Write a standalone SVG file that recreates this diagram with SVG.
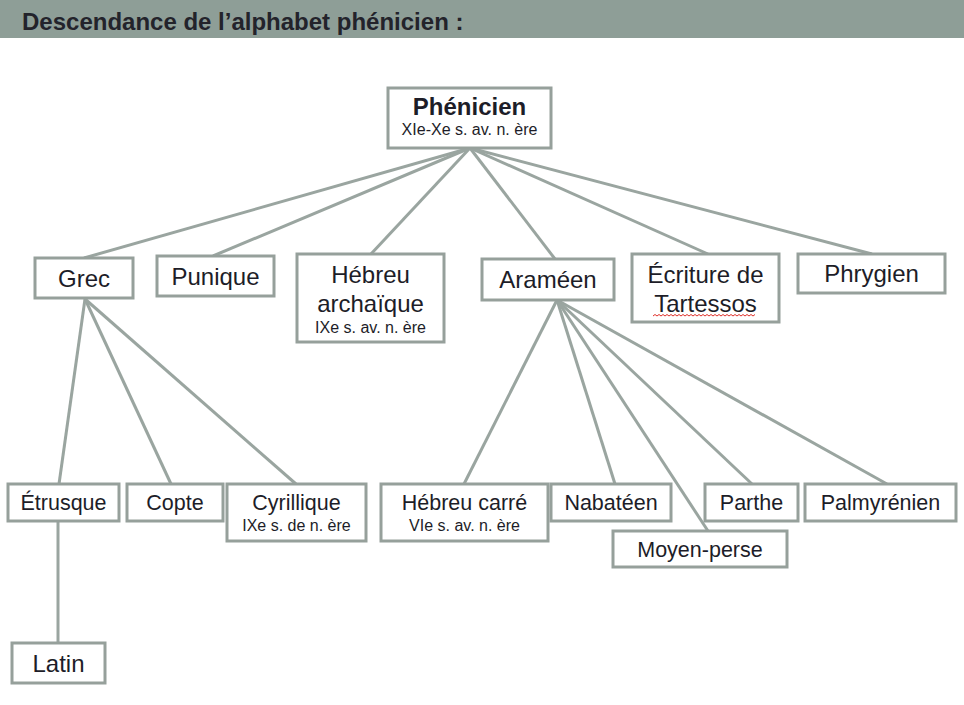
<svg xmlns="http://www.w3.org/2000/svg" width="964" height="705" viewBox="0 0 964 705">
<style>
.box{fill:#ffffff;stroke:#96a09b;stroke-width:3}
.ln{stroke:#9aa5a0;stroke-width:3;fill:none}
.t{font-family:"Liberation Sans",Arial,sans-serif;fill:#1d1d28;text-anchor:middle}
.t1{font-size:24px}
.t2{font-size:21.5px}
.s{font-size:16px}
.b{font-weight:bold}
</style>
<rect x="0" y="0" width="964" height="38" fill="#8e9e97"/>
<text x="22" y="30" font-family="Liberation Sans,Arial,sans-serif" font-size="24" font-weight="bold" fill="#23232b">Descendance de l’alphabet phénicien :</text>
<g id="connectors">
<line class="ln" x1="470" y1="148" x2="84" y2="258"/>
<line class="ln" x1="470" y1="148" x2="213" y2="256"/>
<line class="ln" x1="470" y1="148" x2="371" y2="254"/>
<line class="ln" x1="470" y1="148" x2="555" y2="259"/>
<line class="ln" x1="470" y1="148" x2="708" y2="254"/>
<line class="ln" x1="470" y1="148" x2="872" y2="254"/>
<line class="ln" x1="85" y1="299" x2="59" y2="484"/>
<line class="ln" x1="85" y1="299" x2="171" y2="484"/>
<line class="ln" x1="85" y1="299" x2="296" y2="484"/>
<line class="ln" x1="58" y1="521" x2="58" y2="643"/>
<line class="ln" x1="557" y1="300" x2="464" y2="484"/>
<line class="ln" x1="557" y1="300" x2="615" y2="484"/>
<line class="ln" x1="557" y1="300" x2="708" y2="531"/>
<line class="ln" x1="557" y1="300" x2="752" y2="484"/>
<line class="ln" x1="557" y1="300" x2="887" y2="484"/>
</g>
<g id="phenicien"><rect class="box" x="388" y="88" width="163" height="60"/><text class="t t1 b" x="469.5" y="115">Phénicien</text><text class="t s" x="469.5" y="135">XIe-Xe s. av. n. ère</text></g>
<g id="grec"><rect class="box" x="35" y="258" width="98" height="40"/><text class="t t1" x="84" y="287">Grec</text></g>
<g id="punique"><rect class="box" x="157" y="256" width="117" height="40"/><text class="t t1" x="215.5" y="285">Punique</text></g>
<g id="hebreu-archaique"><rect class="box" x="297" y="254" width="147" height="88"/><text class="t t1" x="370.5" y="283">Hébreu</text><text class="t t1" x="370.5" y="312">archaïque</text><text class="t s" x="370.5" y="333">IXe s. av. n. ère</text></g>
<g id="arameen"><rect class="box" x="482" y="259" width="132" height="41"/><text class="t t1" x="548" y="288">Araméen</text></g>
<g id="tartessos"><rect class="box" x="632" y="254" width="147" height="68"/><text class="t t1" x="705.5" y="283">Écriture de</text><text class="t t1" x="705.5" y="312">Tartessos</text><path d="M653 316 l2 -1.5 l2 1.5 l2 -1.5 l2 1.5 l2 -1.5 l2 1.5 l2 -1.5 l2 1.5 l2 -1.5 l2 1.5 l2 -1.5 l2 1.5 l2 -1.5 l2 1.5 l2 -1.5 l2 1.5 l2 -1.5 l2 1.5 l2 -1.5 l2 1.5 l2 -1.5 l2 1.5 l2 -1.5 l2 1.5 l2 -1.5 l2 1.5 l2 -1.5 l2 1.5 l2 -1.5 l2 1.5 l2 -1.5 l2 1.5 l2 -1.5 l2 1.5 l2 -1.5 l2 1.5 l2 -1.5 l2 1.5 l2 -1.5 l2 1.5 l2 -1.5 l2 1.5 l2 -1.5 l2 1.5 l2 -1.5 l2 1.5 l2 -1.5 l2 1.5 l2 -1.5 l2 1.5 l2 -1.5" fill="none" stroke="#e0302a" stroke-width="1"/></g>
<g id="phrygien"><rect class="box" x="798" y="254" width="147" height="39"/><text class="t t1" x="871.5" y="282">Phrygien</text></g>
<g id="etrusque"><rect class="box" x="8" y="484" width="111" height="37"/><text class="t t2" x="63.5" y="510">Étrusque</text></g>
<g id="copte"><rect class="box" x="127" y="484" width="96" height="37"/><text class="t t2" x="175" y="510">Copte</text></g>
<g id="cyrillique"><rect class="box" x="227" y="484" width="139" height="57"/><text class="t t2" x="296.5" y="510">Cyrillique</text><text class="t s" x="296.5" y="531">IXe s. de n. ère</text></g>
<g id="hebreu-carre"><rect class="box" x="381" y="484" width="167" height="57"/><text class="t t2" x="464.5" y="510">Hébreu carré</text><text class="t s" x="464.5" y="531">VIe s. av. n. ère</text></g>
<g id="nabateen"><rect class="box" x="551" y="484" width="120" height="37"/><text class="t t2" x="611" y="510">Nabatéen</text></g>
<g id="moyen-perse"><rect class="box" x="613" y="531" width="174" height="36"/><text class="t t2" x="700" y="557">Moyen-perse</text></g>
<g id="parthe"><rect class="box" x="705" y="484" width="93" height="37"/><text class="t t2" x="751.5" y="510">Parthe</text></g>
<g id="palmyrenien"><rect class="box" x="805" y="484" width="151" height="37"/><text class="t t2" x="880.5" y="510">Palmyrénien</text></g>
<g id="latin"><rect class="box" x="12" y="643" width="93" height="40"/><text class="t t1" x="58.5" y="672">Latin</text></g>
</svg>
